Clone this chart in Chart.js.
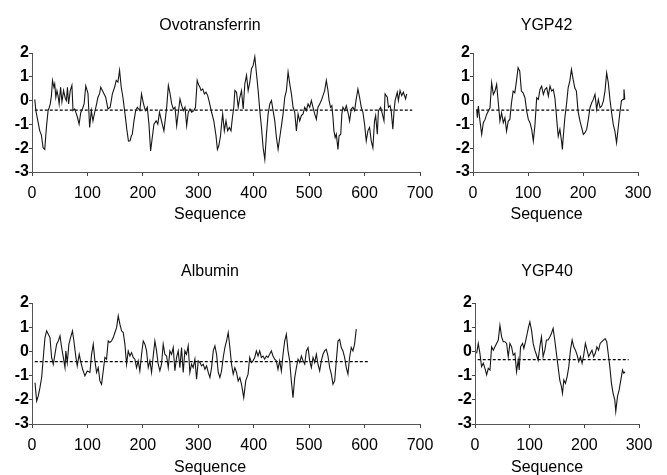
<!DOCTYPE html>
<html lang="en">
<head>
<meta charset="UTF-8" />
<title>Hydropathy profiles</title>
<script src="https://cdn.jsdelivr.net/npm/chart.js"></script>
<style>
  body { margin: 0; background: #fff; overflow: hidden; }
  canvas { position: absolute; }
</style>
</head>
<body>
<canvas id="ovo" width="476" height="235" style="left:0;top:0"></canvas>
<canvas id="ygp42" width="212" height="235" style="left:455px;top:0"></canvas>
<canvas id="alb" width="476" height="237" style="left:0;top:240px"></canvas>
<canvas id="ygp40" width="212" height="237" style="left:455px;top:240px"></canvas>

<script>
// hydropathy traces (sequence position, score)
const ovoX = [5,7,14,17,20,23,26,29,31,33,35,37,39.6,41,43,45,47,49,51.6,54,57,60,62,64,66,69,72,74,77,80,82,85,88,91,94,97,101,104,107,110,113,116,119,122,124,127,130,133,137,141,145,149,152,155,158,161,164,168,171,174,177,179,181,184,187,190,194.6,197.6,200.6,203,205,208,211,214,217,220,224,227,230,235,238,243,246,249,252,255,258,261,264,267,270,273,276,279,282,285,288,292,295,298,301,303,305,308,311,314,317,320,324,328,332,334.5,337,340,342,344,347,350,353,356,359,361.6,364,366,369,372,375,378,381,384,387,390,393,396,399,402,405,408,411,414,417,420,423,426,429,432,435,438,441,444,447,450,453,456,459,462,465,468,471,474,477,480,483,486,489,492,495,498,501,504,507,510,513,516,519,522,525,528,531,534,536,538.7,541,543,544.7,547,549,552,554,557,559,561,564,567,570,573,576,579,582,585,588,591,594,597,600,603,606,609,612,615,618,620,623,625,629,632,635,637,641,643,646,648,651,653,655,659,661,664,667,670,674,676];
const ovoY = [0.05,-0.42,-1.27,-1.45,-1.98,-2.05,-1.13,-0.42,-0.3,-0.14,0.2,0.85,0.56,0.7,0.14,0.42,0.2,-0.14,0.56,-0.05,0.42,0.1,0,0.56,-0.14,0.42,0.64,-0.42,-0.35,-0.56,-0.7,-0.99,-0.5,-0.35,-0.14,0.62,0.3,-1.13,-0.42,-0.85,-0.5,-0.2,0.14,0.3,0.56,0.42,0.28,0.14,-0.35,-0.28,0.28,0.56,0.85,0.78,1.27,0.56,0.14,-0.6,-1.2,-1.7,-1.69,-1.5,-1.41,-0.85,-0.42,-0.28,-0.42,0.28,-0.07,-0.3,-0.42,-0.28,-0.99,-2.12,-1.55,-0.99,-0.85,-0.99,-0.49,-0.99,-1.27,-0.28,0.64,0.3,-0.14,-0.35,-0.28,-1.06,-0.49,0.07,-0.21,-0.42,-0.28,-1.06,-0.49,-0.35,-0.49,-0.42,-0.28,0.85,0.64,0.56,0.42,0.49,0.28,0.35,0.21,-0.07,-0.49,-0.85,-1.48,-2.05,-1.9,-1.5,-0.99,-0.56,-1.27,-0.85,-1.27,-1.13,-1.27,-0.71,-0.28,0.42,0.35,-0.28,0.14,0.42,-0.35,0.71,1.06,0.42,0.78,1.34,1.48,1.84,1.13,0.42,-0.42,-1.13,-1.98,-2.47,-1.41,-0.56,-0.14,0,-0.42,-0.85,-1.55,-2.05,-1.55,-1.06,-0.56,0.14,0.42,1.2,0.71,0.28,-0.28,-0.49,-1.27,-0.56,-0.85,-0.63,-0.56,-0.28,-0.42,-0.14,-0.28,0,-0.28,-0.56,-0.78,-0.28,-0.14,0,0.21,0.42,0.85,0.42,0,-0.28,-0.21,-0.71,-1.27,-1.55,-1.41,-2.05,-1.48,-1.41,-0.56,-0.28,-0.42,-0.21,-0.49,-0.85,-0.35,-0.28,-0.42,0.07,0.49,0.14,-0.28,-0.49,-0.99,-1.69,-1.27,-1.13,-1.69,-1.98,-0.85,-0.63,-1.41,-0.42,-0.28,-0.56,-0.85,0.28,0.14,-0.28,-0.21,-0.42,-1.2,-0.49,0,0.35,0,0.42,0.21,0.35,0.07,0.28];

const y42X = [6.7,8,9.7,12.7,15.8,18.8,21.8,24.8,27.9,30.9,33.9,37,40,43,46,49,52,55,58,61,64,67,70,73,76,79,82,85,88,91,94.5,97.6,100.6,103.6,106.7,109.7,112.7,115.8,118.8,121.8,124.8,127.9,131,134,137,140,143,146,149,151,153,155,158,161,162.5,164,167,170,173,176,179,182,185,188,191,194.5,197.6,200.6,203.6,206.7,209.7,212.7,215.8,218.8,221.8,224.8,227.9,231,234,237,240,243,246,249,252,255,258,261,264,267,270,273,274.5,276];
const y42Y = [-0.37,-0.72,-0.23,-0.86,-1.42,-0.93,-0.8,-0.58,-0.44,-0.3,0.75,0.26,0.4,0.68,-0.09,-0.86,-0.51,-0.93,-0.72,-1.28,-0.86,-0.79,-0.09,0.4,0.33,0.82,1.38,1.24,0.4,0.33,0.12,-0.44,-0.79,-0.93,-1.21,-1.7,-1.0,0.12,0.05,0.47,0.61,0.26,0.47,0.54,0.19,0.61,0.4,0.47,0.1,-0.44,-1.0,-1.5,-1.2,-1.7,-2.05,-1.56,-0.72,-0.16,0.54,0.82,1.31,0.9,0.54,0.4,-0.44,-0.86,-1.14,-1.42,-1.35,-1.21,-0.79,-0.3,-0.09,0.05,0.26,-0.37,0.05,-0.3,-0.23,-0.02,0.4,1.17,0.75,0.05,-0.51,-1.0,-1.28,-1.77,-1.14,-0.51,0,0.05,0.47,0.05];

const albX = [5.4,8.4,11.4,14.4,17.4,20.4,23.4,26.4,29.4,32.4,35.4,38.4,41.4,44.4,47.4,50.5,53.5,56.5,59.5,61,63.6,66.6,69.6,73,75.6,79.2,81.6,85.2,87.6,91.3,95.5,99.7,104.5,107.5,110.5,113.5,116.5,119.5,122.5,125.5,128.5,131.5,134.5,137.5,140.5,143.5,146.6,149.6,152.6,155.6,158.6,161.6,164.6,167.6,170.6,173.6,176.6,179.6,182.6,185.6,188.6,191.6,194.6,197.7,200.7,203.7,206.7,209.7,212.7,215.7,218.7,221.7,224.7,227.7,230.7,233.7,236.7,239.7,242.8,245.8,248.8,251.8,254.8,257.8,260.8,263.8,266.8,269.8,272.8,275.8,278.8,281.8,284.8,287.8,290.8,293.9,296.9,299.9,303,306,309,312,315,318,321,324,327,330,333,336,339,342,345,348,351,354,357,360,363,366,369,372,375,378,382,385.6,389.8,392.8,395.8,398.8,401.8,404.8,407.8,410.8,413.8,416.8,419.8,422.8,425.8,428.8,431.8,434.8,437.8,440.8,443.8,446.8,449.9,452.9,455.9,458.9,461.9,464.9,467.9,470.9,474,477,480,483,486,489,492,495,498,501,504,507,510,513,516,519,522,525,528,531,534,537,540,543,546,549,552,555,558,561,564,567,570,573,576,579,582,585];
const albY = [-1.29,-2.05,-1.84,-1.49,-1.08,-0.25,0.57,0.85,0.71,0.57,-0.25,-0.53,-0.12,0.3,0.43,0.64,0.16,-0.25,-0.67,0.02,-0.46,0.3,0.57,0.85,0.43,-0.25,-0.6,-0.12,-0.39,-0.74,-1.01,-0.81,-0.87,-0.12,0.3,-0.39,-0.87,-0.67,-1.22,-1.36,-0.81,-0.25,-0.32,0.43,0.37,0.43,0.57,0.78,0.98,1.47,1.12,0.85,0.78,0.3,-0.53,0.02,-0.19,-0.05,-0.25,-0.32,-0.67,-0.39,-0.81,-0.12,0.43,0.3,0.02,-0.67,-0.39,-0.87,-0.19,0.43,0.02,-0.53,-0.8,-0.53,0.3,-0.12,-0.19,-0.67,0.02,-0.12,0.16,-0.8,-0.25,0.02,-0.67,0.16,-0.87,0.02,-0.12,0.23,-0.87,-0.53,-0.67,-0.32,-1.15,-0.39,-0.46,-0.6,-0.53,-0.74,-0.6,-0.87,-1.08,-0.67,0.02,0.23,-0.12,-0.87,-1.08,-0.81,-0.25,0.16,0.43,0.78,0.16,-0.53,-0.94,-0.67,-0.87,-1.22,-1.08,-1.36,-1.91,-1.22,-0.94,-0.25,-0.46,-0.39,-0.25,0.02,-0.19,0.02,-0.25,-0.19,-0.32,-0.19,-0.25,-0.12,0.02,-0.19,-0.32,-0.39,-0.74,-0.39,-0.81,-0.12,0.43,0.71,0.02,-0.39,-1.22,-1.91,-1.08,-0.67,-0.32,-0.46,-0.19,-0.39,-0.53,0.02,0.16,-0.39,-0.67,-0.25,-0.46,-0.12,-0.53,-0.8,-0.39,-0.12,0.02,0.09,-0.19,-0.67,-0.94,-1.36,-1.22,-0.39,0.43,0.5,0.16,0.02,-0.25,-0.67,-0.94,-0.25,0.16,0.02,0.3,0.92];

const y40X = [3,6,9,12,15.2,18.2,21.3,24.3,27.4,30.4,33.5,36.5,39.5,42.6,45.6,48.7,51.7,54.7,57.8,60.8,63.9,66.9,69.9,73,76,79,80.9,83.3,87,89.4,93,95.5,98,100.4,103.4,106.4,109.5,112.5,115.5,118.6,121.6,124.6,127.7,130.7,133.8,136.8,139.8,142.9,145.9,148.9,152,155,158,160,162.5,165.5,168.6,171.6,174.6,177.7,180.7,183.7,186.8,189.8,192.8,195.9,198.9,201.9,205,208,211,214,217,220,223,226,229,232,235,238,241,244,246.6,249.6,252.6,255.7,257.5,260.7,263.7,266.8,269.8,272.2,274.6];
const y40Y = [-0.08,0.33,-0.08,-0.63,-0.49,-0.7,-0.97,-0.7,-0.77,0.19,0.05,0.19,0.33,0.47,1.08,0.6,0.4,0.4,0.33,-0.22,0.33,0.19,-0.15,-0.08,-0.84,-0.36,-0.77,0.19,0.33,0.12,0.47,0.74,1.01,1.22,0.88,0.33,0.05,-0.15,-0.36,0.19,0.6,-0.22,0.05,0.47,0.47,0.6,0.74,0.95,0.47,-0.08,-0.63,-1.18,-1.45,-1.73,-1.18,-1.32,-1.04,-0.63,0.05,0.47,0.19,0.05,-0.15,-0.42,-0.22,-0.49,-0.15,0.33,0.05,-0.22,-0.08,0.05,-0.22,-0.08,0.19,0.05,0.33,0.4,0.47,0.53,0.4,-0.15,-0.63,-1.32,-1.73,-2.0,-2.48,-1.86,-1.59,-1.18,-0.77,-0.9,-0.84];

// dashed reference level: [score, from, to]
const ovoRef = [-0.4, 5, 686];
const y42Ref = [-0.4, 6, 283];
const albRef = [-0.42, 5, 606];
const y40Ref = [-0.34, 5, 281];

const xTicksLong = [0, 100, 200, 300, 400, 500, 600, 700];
const xTicksShort = [0, 100, 200, 300];
const yTicks = [-3, -2, -1, 0, 1, 2];

const FONT = "'Liberation Sans', Arial, sans-serif";

function pts(xs, ys) {
  return xs.map((x, i) => ({ x: x, y: ys[i] }));
}

function panel(id, title, xs, ys, ref, xTicks, lay) {
  new Chart(document.getElementById(id), {
    type: "line",
    data: {
      datasets: [
        { data: pts(xs, ys), borderColor: "#161616", borderWidth: 1.1, pointRadius: 0, tension: 0 },
        { data: [{ x: ref[1], y: ref[0] }, { x: ref[2], y: ref[0] }],
          borderColor: "#000", borderWidth: 1.3, borderDash: [3, 2], pointRadius: 0 }
      ]
    },
    options: {
      responsive: false,
      animation: false,
      layout: { padding: { left: 0, right: lay.padR, top: 0, bottom: 0 } },
      plugins: {
        legend: { display: false },
        tooltip: { enabled: false },
        title: { display: true, text: title, color: "#000",
                 font: { family: FONT, size: 16, weight: "normal" },
                 padding: { top: lay.tTop, bottom: lay.tBot } },
        subtitle: { display: true, position: "bottom", text: "Sequence", color: "#000",
                    font: { family: FONT, size: 16, weight: "normal" },
                    padding: { top: 0, bottom: lay.sBot } }
      },
      scales: {
        x: {
          type: "linear", min: xTicks[0], max: xTicks[xTicks.length - 1],
          afterBuildTicks: s => { s.ticks = xTicks.map(v => ({ value: v })); },
          afterFit: s => { s.height = lay.xH; },
          grid: { drawOnChartArea: false, tickLength: 4, color: "#444" },
          border: { color: "#555", width: 1 },
          ticks: { color: "#000", padding: 8, maxRotation: 0,
                   font: { family: FONT, size: 16 } }
        },
        y: {
          min: -3, max: 2,
          afterBuildTicks: s => { s.ticks = yTicks.map(v => ({ value: v })); },
          afterFit: s => { s.width = lay.yW; },
          grid: { drawOnChartArea: false, tickLength: 3, color: "#444" },
          border: { color: "#555", width: 1 },
          ticks: { color: "#000", padding: 0,
                   font: { family: FONT, size: 16, weight: "bold" } }
        }
      }
    }
  });
}

const topLay = { tTop: 16, tBot: 17.8, sBot: 10.4, xH: 33.4 };
const botLay = { tTop: 21.9, tBot: 21.9, sBot: 0, xH: 33.8 };

panel("ovo", "Ovotransferrin", ovoX, ovoY, ovoRef, xTicksLong, Object.assign({ padR: 56, yW: 32 }, topLay));
panel("ygp42", "YGP42", y42X, y42Y, y42Ref, xTicksShort, Object.assign({ padR: 29, yW: 18 }, topLay));
panel("alb", "Albumin", albX, albY, albRef, xTicksLong, Object.assign({ padR: 56, yW: 32 }, botLay));
panel("ygp40", "YGP40", y40X, y40Y, y40Ref, xTicksShort, Object.assign({ padR: 28, yW: 20 }, botLay));
</script>
</body>
</html>
